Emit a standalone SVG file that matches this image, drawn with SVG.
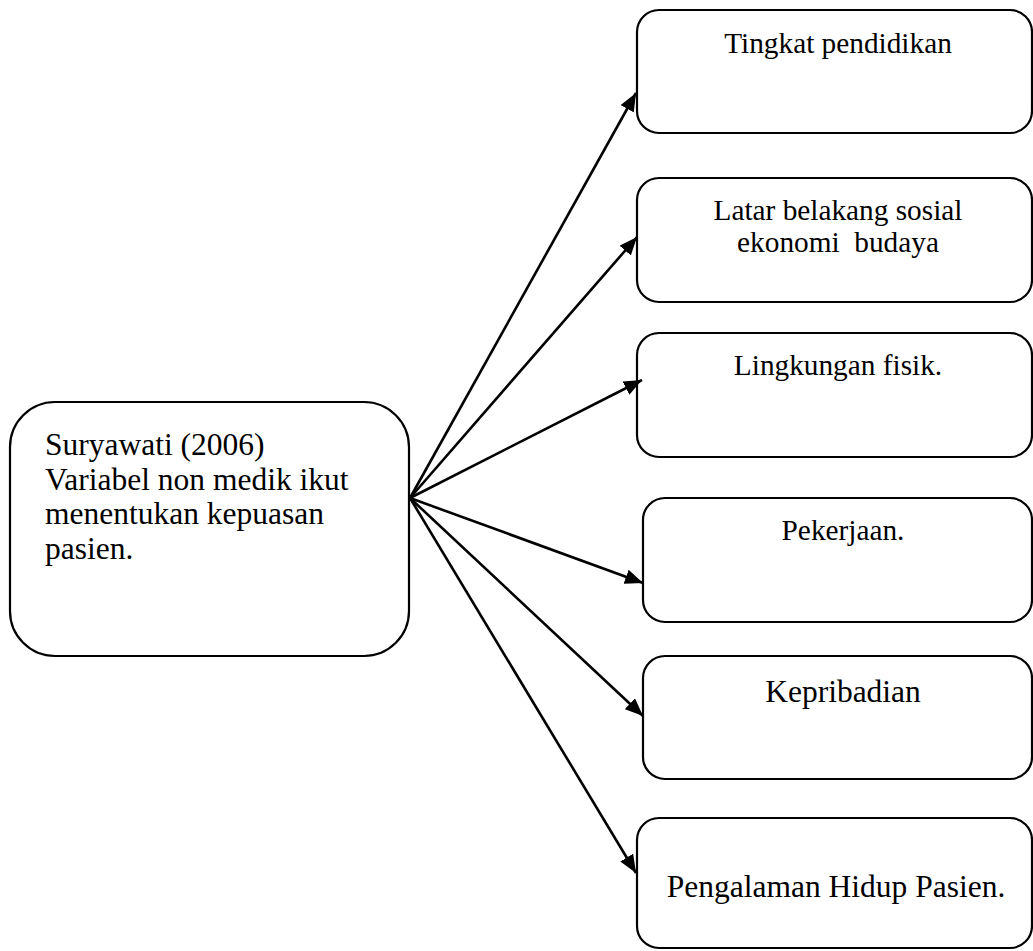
<svg xmlns="http://www.w3.org/2000/svg" width="1033" height="951" viewBox="0 0 1033 951">
  <style>
    .box { fill: #ffffff; stroke: #000000; stroke-width: 2.2; }
    .lbl { font-family: "Liberation Serif", "Times New Roman", serif; fill: #000000; }
    .sm { font-size: 29.3px; text-anchor: middle; }
    .lg { font-size: 31.5px; }
    .lgc { font-size: 31.5px; text-anchor: middle; }
    .edge { stroke: #000000; stroke-width: 2.6; fill: none; marker-end: url(#arrow); }
  </style>
  <defs>
    <marker id="arrow" markerUnits="userSpaceOnUse" markerWidth="19" markerHeight="15" refX="18" refY="7.5" orient="auto">
      <path d="M0,0 L18,7.5 L0,15 Z" fill="#000000"/>
    </marker>
  </defs>
  <rect width="1033" height="951" fill="#ffffff"/>

  <!-- source node -->
  <g id="node-suryawati">
    <rect class="box" x="10" y="402" width="399" height="254" rx="45" ry="45"/>
    <text class="lbl lg" x="45" y="455">Suryawati (2006)</text>
    <text class="lbl lg" x="45" y="490">Variabel non medik ikut</text>
    <text class="lbl lg" x="45" y="524">menentukan kepuasan</text>
    <text class="lbl lg" x="45" y="559">pasien.</text>
  </g>

  <!-- factor nodes -->
  <g id="node-pendidikan">
    <rect class="box" x="637" y="10" width="395" height="123" rx="22" ry="22"/>
    <text class="lbl sm" x="838" y="53">Tingkat pendidikan</text>
  </g>
  <g id="node-sosial">
    <rect class="box" x="637" y="178" width="395" height="124" rx="22" ry="22"/>
    <text class="lbl sm" x="838" y="220">Latar belakang sosial</text>
    <text class="lbl sm" x="838" y="252" xml:space="preserve">ekonomi  budaya</text>
  </g>
  <g id="node-lingkungan">
    <rect class="box" x="637" y="333" width="395" height="124" rx="22" ry="22"/>
    <text class="lbl sm" x="838" y="375">Lingkungan fisik.</text>
  </g>
  <g id="node-pekerjaan">
    <rect class="box" x="643" y="498" width="389" height="124" rx="22" ry="22"/>
    <text class="lbl sm" x="843" y="540">Pekerjaan.</text>
  </g>
  <g id="node-kepribadian">
    <rect class="box" x="643" y="656" width="389" height="123" rx="22" ry="22"/>
    <text class="lbl lgc" x="843" y="702">Kepribadian</text>
  </g>
  <g id="node-pengalaman">
    <rect class="box" x="637" y="818" width="395" height="130" rx="22" ry="22"/>
    <text class="lbl lgc" x="836" y="897">Pengalaman Hidup Pasien.</text>
  </g>

  <!-- connectors -->
  <g id="connectors">
    <line class="edge" x1="410" y1="498" x2="636" y2="93"/>
    <line class="edge" x1="410" y1="498" x2="637" y2="237"/>
    <line class="edge" x1="410" y1="498" x2="642" y2="380"/>
    <line class="edge" x1="410" y1="498" x2="643" y2="583"/>
    <line class="edge" x1="410" y1="498" x2="643" y2="716"/>
    <line class="edge" x1="410" y1="498" x2="636" y2="873"/>
  </g>
</svg>
